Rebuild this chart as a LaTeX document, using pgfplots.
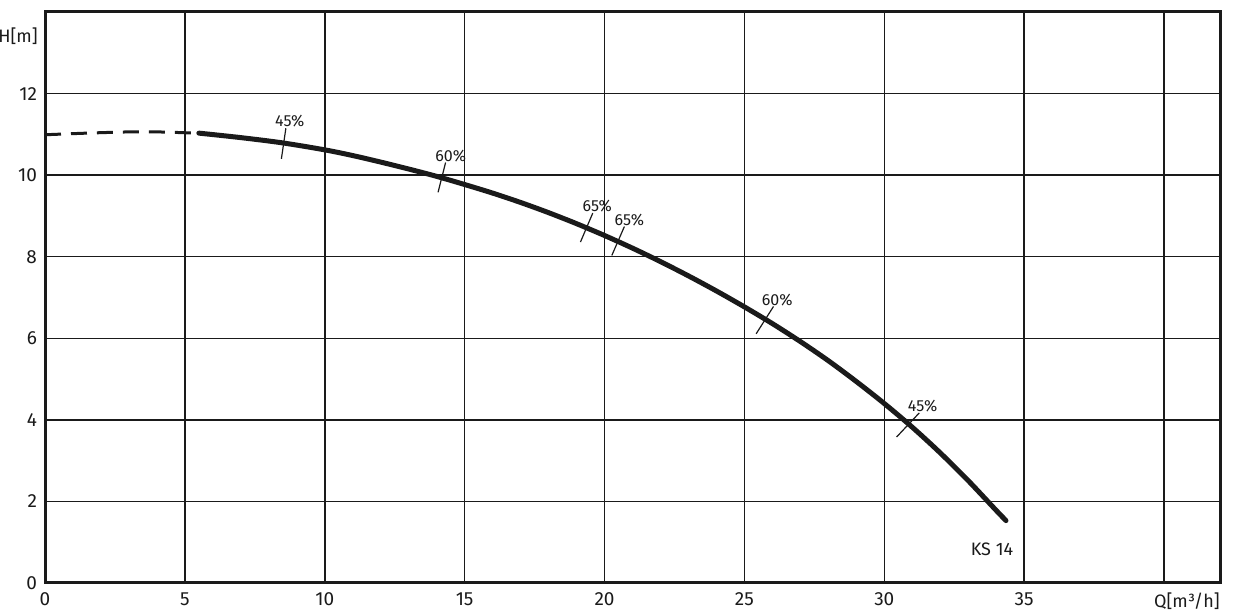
\documentclass[border=0pt]{standalone}
\usepackage{fontspec}
\setmainfont{Fira Sans}
\usepackage{pgfplots}
\pgfplotsset{compat=1.18}
\definecolor{ink}{HTML}{1A1A1A}
\begin{document}
\begin{tikzpicture}
\begin{axis}[
  name=ax, scale only axis, width=587.5pt, height=285.5pt,
  xmin=0, xmax=42, ymin=0, ymax=14,
  xtick={0,5,...,40}, xticklabels={0,5,10,15,20,25,30,35,{}},
  ytick={0,2,...,12},
  major tick length=0pt,
  grid=major, major grid style={ink, line width=0.75pt},
  axis line style={ink, line width=1.5pt},
  tick label style={font=\fontsize{9.5}{10}\selectfont, text=ink},
  /pgf/number format/assume math mode=true,
  xticklabel style={yshift=-1.5pt},
  yticklabel style={xshift=-0.5pt},
  clip=false,
]
% dashed (unstable) part
\addplot[ink, line width=1.5pt, dash pattern=on 8pt off 5pt, no markers, smooth]
  coordinates {(0,10.99) (1.5,11.03) (3,11.06) (4,11.06) (5,11.04) (5.5,11.03)};
% solid curve
\addplot[ink, line width=2.5pt, no markers, smooth, line cap=round]
  coordinates {
  (5.5,11.03) (7,10.92) (8.5,10.79) (10,10.62) (11,10.48) (12,10.32) (13,10.15)
  (14,9.97) (15,9.77) (16,9.56) (17,9.33) (18,9.08) (19,8.81) (20,8.52)
  (21,8.21) (22,7.88) (23,7.53) (24,7.16) (25,6.77) (26,6.36) (27,5.92)
  (28,5.45) (29,4.94) (30,4.40) (31,3.82) (32,3.19) (33,2.51) (34,1.78)
  (34.35,1.53)};
% efficiency marks
\addplot[ink, line width=0.6pt, no markers] coordinates {(8.45,10.40) (8.61,11.15)};
\addplot[ink, line width=0.6pt, no markers] coordinates {(14.05,9.58) (14.32,10.31)};
\addplot[ink, line width=0.6pt, no markers] coordinates {(19.14,8.36) (19.58,9.07)};
\addplot[ink, line width=0.6pt, no markers] coordinates {(20.26,8.03) (20.71,8.74)};
\addplot[ink, line width=0.6pt, no markers] coordinates {(25.42,6.11) (26.04,6.78)};
\addplot[ink, line width=0.6pt, no markers] coordinates {(30.44,3.58) (31.25,4.17)};
\begin{scope}[every node/.style={font=\fontsize{8}{9}\selectfont, text=ink, inner sep=0pt}]
\node at (axis cs:8.75,11.33) {45\%};
\node at (axis cs:14.5,10.48) {60\%};
\node at (axis cs:19.74,9.23) {65\%};
\node at (axis cs:20.89,8.89) {65\%};
\node at (axis cs:26.17,6.94) {60\%};
\node at (axis cs:31.37,4.33) {45\%};
\end{scope}
\node[font=\fontsize{9}{10}\selectfont, text=ink, inner sep=0pt] at (axis cs:33.85,0.82) {KS 14};
\node[font=\fontsize{9}{10}\selectfont, text=ink, inner sep=0pt, anchor=east] at (axis cs:-0.25,13.41) {H[m]};
\node[font=\fontsize{9}{10}\selectfont, text=ink, inner sep=0pt, anchor=north east] at ([yshift=-4.5pt]rel axis cs:1,0) {Q[m³/h]};
\end{axis}
\pgfresetboundingbox
\path ([shift={(-22.5pt,-13.5pt)}]ax.south west) rectangle ([shift={(8.5pt,6pt)}]ax.north east);
\end{tikzpicture}
\end{document}
